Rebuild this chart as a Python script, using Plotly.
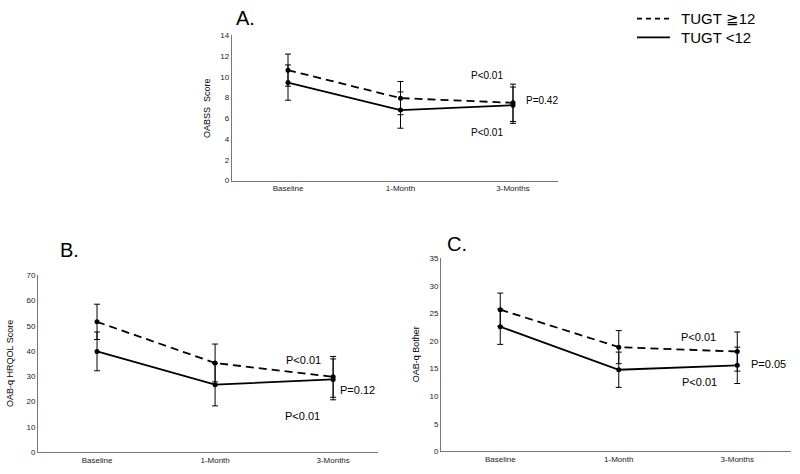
import plotly.graph_objects as go

categories = ["Baseline", "1-Month", "3-Months"]

# Panel A: OABSS score
a_high = [10.65, 7.95, 7.5]
a_high_err = [1.55, 1.6, 1.8]
a_low = [9.45, 6.8, 7.27]
a_low_err = [1.7, 1.75, 1.75]

# Panel B: OAB-q HRQOL score
b_high = [51.6, 35.3, 29.8]
b_high_err = [7.0, 7.5, 8.1]
b_low = [39.9, 26.7, 28.8]
b_low_err = [7.7, 8.4, 8.1]

# Panel C: OAB-q Bother
c_high = [25.7, 18.9, 18.1]
c_high_err = [3.0, 3.0, 3.55]
c_low = [22.6, 14.8, 15.6]
c_low_err = [3.2, 3.2, 3.3]

y_ticks_a = [0, 2, 4, 6, 8, 10, 12, 14]
y_ticks_b = [0, 10, 20, 30, 40, 50, 60, 70]
y_ticks_c = [0, 5, 10, 15, 20, 25, 30, 35]

FONT = "Liberation Sans"
W, H = 800, 474


def xp(p):
    return p / W


def yp(p):
    return 1 - p / H


fig = go.Figure()

panels = [
    ("x", "y", a_high, a_high_err, a_low, a_low_err),
    ("x2", "y2", b_high, b_high_err, b_low, b_low_err),
    ("x3", "y3", c_high, c_high_err, c_low, c_low_err),
]
for xa, ya, hi, hie, lo, loe in panels:
    fig.add_trace(go.Scatter(
        x=categories, y=hi, xaxis=xa, yaxis=ya, mode="lines+markers",
        line=dict(color="black", width=1.8, dash="8px,5px"),
        marker=dict(color="black", size=5),
        error_y=dict(type="data", array=hie, color="black", thickness=1, width=3),
        showlegend=False))
    fig.add_trace(go.Scatter(
        x=categories, y=lo, xaxis=xa, yaxis=ya, mode="lines+markers",
        line=dict(color="black", width=1.8),
        marker=dict(color="black", size=5),
        error_y=dict(type="data", array=loe, color="black", thickness=1, width=3),
        showlegend=False))


def xaxis(px0, px1, rng, anchor):
    return dict(domain=[xp(px0), xp(px1)], range=rng, anchor=anchor, type="category",
                showline=True, linecolor="#777", linewidth=1, showgrid=False,
                zeroline=False, ticks="", tickfont=dict(family=FONT, size=8, color="#222"))


def yaxis(py0, py1, rng, ticks, anchor):
    return dict(domain=[yp(py0), yp(py1)], range=rng, anchor=anchor, tickvals=ticks,
                showline=True, linecolor="#777", linewidth=1, showgrid=False,
                zeroline=False, ticks="", tickfont=dict(family=FONT, size=8, color="#222"))


fig.update_layout(
    width=W, height=H, margin=dict(l=0, r=0, t=0, b=0),
    paper_bgcolor="white", plot_bgcolor="white",
    xaxis=xaxis(231.75, 558, [-0.5, 2.4], "y"),
    yaxis=yaxis(180, 32, [0, 14], y_ticks_a, "x"),
    xaxis2=xaxis(38, 378, [-0.5, 2.38], "y2"),
    yaxis2=yaxis(456.7, 276.7, [0, 70], y_ticks_b, "x2"),
    xaxis3=xaxis(441, 790.6, [-0.5, 2.45], "y3"),
    yaxis3=yaxis(456, 259.3, [0, 35], y_ticks_c, "x3"),
)


def ann(text, x, y, size, xanchor="center", **kw):
    fig.add_annotation(text=text, x=xp(x), y=yp(y), xref="paper", yref="paper",
                       xanchor=xanchor, yanchor="middle",
                       showarrow=False, font=dict(family=FONT, size=size, color="black"), **kw)


# panel letters
ann("A.", 245, 14, 20)
ann("B.", 69, 251, 20)
ann("C.", 457, 245, 20)

# y-axis titles
ann("OABSS  Score", 207, 106, 9, textangle=-90)
ann("OAB-q HRQOL Score", 10, 367, 9, textangle=-90)
ann("OAB-q Bother", 416, 357, 9, textangle=-90)

# p-values
ann("P<0.01", 487, 73, 10)
ann("P=0.42", 542, 98, 10)
ann("P<0.01", 487, 131, 10)
ann("P<0.01", 303, 363, 11)
ann("P=0.12", 357, 393, 11)
ann("P<0.01", 302, 420, 11)
ann("P<0.01", 698, 339, 11)
ann("P=0.05", 768, 367, 11)
ann("P<0.01", 699, 385, 11)

# legend
fig.add_shape(type="line", xref="paper", yref="paper", x0=xp(637), x1=xp(670),
              y0=yp(15), y1=yp(15), line=dict(color="black", width=1.8, dash="5px,4px"))
fig.add_shape(type="line", xref="paper", yref="paper", x0=xp(637), x1=xp(670),
              y0=yp(34), y1=yp(34), line=dict(color="black", width=1.8))
ann("TUGT ≧12", 679, 15, 15, xanchor="left")
ann("TUGT <12", 679, 34, 15, xanchor="left")

# remove the default 8px page margin so the 800x474 figure fills the window exactly
fig.write_html("out.html", config={"displayModeBar": False},
               post_script="document.body.style.margin='0';")
